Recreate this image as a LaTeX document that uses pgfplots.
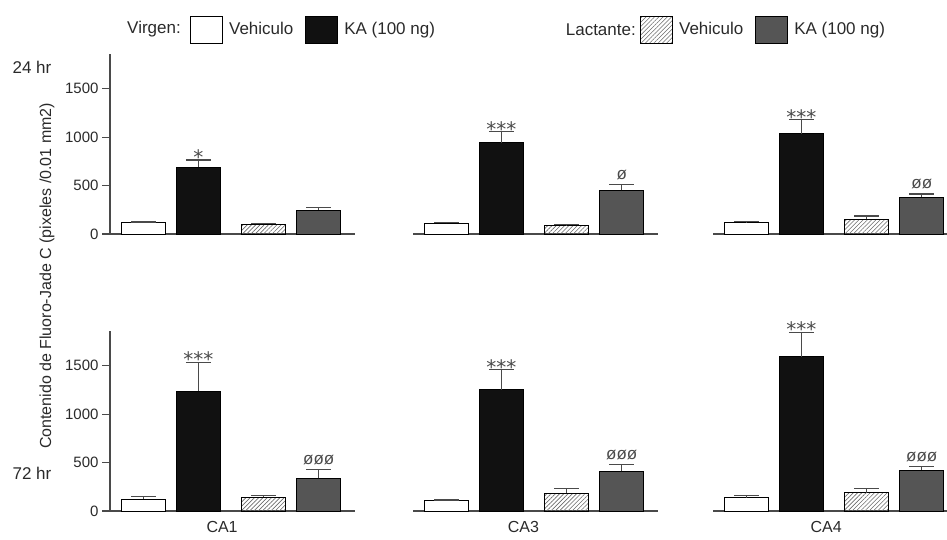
\documentclass[border=0pt]{standalone}
\usepackage{fontspec}
\setmainfont{Liberation Sans}
\newfontfamily\dejavu{DejaVu Sans}
\usepackage{pgfplots}
\pgfplotsset{compat=1.18}
\usetikzlibrary{patterns.meta}
\definecolor{axgray}{HTML}{4A4A4A}
\definecolor{txt}{HTML}{2A2A2A}
\definecolor{kagray}{HTML}{555555}
\definecolor{barblack}{HTML}{111111}
\definecolor{hatch}{HTML}{6A6A6A}

\pgfplotsset{
  panel/.style={scale only axis, height=180pt, width=245pt, ymin=0, ymax=1860,
    xmin=-0.61, xmax=3.85, enlargelimits=false, clip=false,
    axis x line*=bottom, xtick=\empty,
    axis line style={axgray, line width=1.2pt}, anchor=south west},
  firstcol/.style={axis y line*=left, ytick={0,500,1000,1500}, tick align=outside,
    major tick length=8pt, ytick style={axgray, line width=1.2pt},
    yticklabel style={font=\fontsize{15}{18}\selectfont, text=txt},
    /pgf/number format/set thousands separator={},
    /pgf/number format/assume math mode=true},
  othercol/.style={axis y line=none},
  barbase/.style={ybar, bar width=44pt, bar shift=0pt, draw=black, line width=0.9pt,
    forget plot,
    error bars/y dir=plus, error bars/y explicit,
    error bars/error bar style={line width=1.2pt, axgray},
    error bars/error mark options={rotate=90, line width=1.2pt, axgray, mark size=12.5pt}},
  vehV/.style={barbase, fill=white},
  kaV/.style={barbase, fill=barblack},
  vehL/.style={barbase, pattern={Lines[angle=45, distance=3pt, line width=0.6pt]}, pattern color=hatch},
  kaL/.style={barbase, fill=kagray},
  boxlegend/.style={legend image code/.code={\draw[##1, draw=black, line width=0.9pt] (0pt,-13.5pt) rectangle (32pt,13.5pt);}},
  mylegend/.style={legend columns=-1,
    legend style={at={#1}, anchor=west, draw=none, fill=none, inner sep=0pt,
      font=\fontsize{17}{20}\selectfont, text=txt,
      /tikz/every odd column/.append style={column sep=4pt},
      /tikz/every even column/.append style={column sep=10pt}}},
}
\newcommand{\stars}[1]{{\dejavu\fontsize{20}{22}\selectfont #1}}
\newcommand{\phis}[1]{{\fontsize{17}{20}\selectfont #1}}

\begin{document}
\begin{tikzpicture}
\useasboundingbox (0,0) rectangle (947pt,540pt);

% ---------- 24 hr row ----------
\begin{axis}[panel, firstcol, at={(110pt,306pt)}, mylegend={(0.3265,1.136)}]
\addplot[vehV] coordinates {(0,117) +- (0,6)};
\addplot[kaV] coordinates {(1,690) +- (0,75)};
\addplot[vehL] coordinates {(2.19,103) +- (0,7)};
\addplot[kaL] coordinates {(3.19,248) +- (0,22)};
\addlegendimage{boxlegend, fill=white}
\addlegendentry{Vehiculo}
\addlegendimage{boxlegend, fill=barblack}
\addlegendentry{KA (100 ng)}
\node[anchor=base, inner sep=0pt, text=axgray, yshift=-4.4pt] at (axis cs:1,765) {\stars{*}};
\end{axis}

\begin{axis}[panel, othercol, at={(413pt,306pt)}, mylegend={(0.9265,1.136)}]
\addplot[vehV] coordinates {(0,110) +- (0,10)};
\addplot[kaV] coordinates {(1,944) +- (0,111)};
\addplot[vehL] coordinates {(2.19,86) +- (0,9)};
\addplot[kaL] coordinates {(3.19,452) +- (0,58)};
\addlegendimage{boxlegend, vehL}
\addlegendentry{Vehiculo}
\addlegendimage{boxlegend, fill=kagray}
\addlegendentry{KA (100 ng)}
\node[anchor=base, inner sep=0pt, text=axgray, yshift=-4.4pt] at (axis cs:1,1055) {\stars{***}};
\node[anchor=base, inner sep=0pt, text=axgray, yshift=5pt] at (axis cs:3.19,510) {\phis{ø}};
\end{axis}

\begin{axis}[panel, othercol, at={(713pt,306pt)}, xmax=3.65, width=234pt]
\addplot[vehV] coordinates {(0,121) +- (0,8)};
\addplot[kaV] coordinates {(1,1034) +- (0,145)};
\addplot[vehL] coordinates {(2.19,152) +- (0,34)};
\addplot[kaL] coordinates {(3.19,380) +- (0,34)};
\node[anchor=base, inner sep=0pt, text=axgray, yshift=-4.4pt] at (axis cs:1,1179) {\stars{***}};
\node[anchor=base, inner sep=0pt, text=axgray, yshift=5pt] at (axis cs:3.19,414) {\phis{øø}};
\end{axis}

% ---------- 72 hr row ----------
\begin{axis}[panel, firstcol, at={(110pt,29pt)}]
\addplot[vehV] coordinates {(0,124) +- (0,24)};
\addplot[kaV] coordinates {(1,1238) +- (0,300)};
\addplot[vehL] coordinates {(2.19,141) +- (0,21)};
\addplot[kaL] coordinates {(3.19,338) +- (0,93)};
\node[anchor=base, inner sep=0pt, text=axgray, yshift=-4.4pt] at (axis cs:1,1538) {\stars{***}};
\node[anchor=base, inner sep=0pt, text=axgray, yshift=5pt] at (axis cs:3.19,431) {\phis{øøø}};
\node[text=txt, font=\fontsize{16}{19}\selectfont, yshift=-16pt] at (axis cs:1.43,0) {CA1};
\end{axis}

\begin{axis}[panel, othercol, at={(413pt,29pt)}]
\addplot[vehV] coordinates {(0,107) +- (0,6)};
\addplot[kaV] coordinates {(1,1251) +- (0,207)};
\addplot[vehL] coordinates {(2.19,183) +- (0,52)};
\addplot[kaL] coordinates {(3.19,410) +- (0,69)};
\node[anchor=base, inner sep=0pt, text=axgray, yshift=-4.4pt] at (axis cs:1,1458) {\stars{***}};
\node[anchor=base, inner sep=0pt, text=axgray, yshift=5pt] at (axis cs:3.19,479) {\phis{øøø}};
\node[text=txt, font=\fontsize{16}{19}\selectfont, yshift=-16pt] at (axis cs:1.40,0) {CA3};
\end{axis}

\begin{axis}[panel, othercol, at={(713pt,29pt)}, xmax=3.65, width=234pt]
\addplot[vehV] coordinates {(0,138) +- (0,24)};
\addplot[kaV] coordinates {(1,1592) +- (0,256)};
\addplot[vehL] coordinates {(2.19,189) +- (0,42)};
\addplot[kaL] coordinates {(3.19,424) +- (0,34)};
\node[anchor=base, inner sep=0pt, text=axgray, yshift=-4.4pt] at (axis cs:1,1848) {\stars{***}};
\node[anchor=base, inner sep=0pt, text=axgray, yshift=5pt] at (axis cs:3.19,458) {\phis{øøø}};
\node[text=txt, font=\fontsize{16}{19}\selectfont, yshift=-16pt] at (axis cs:1.45,0) {CA4};
\end{axis}

% ---------- free text ----------
\node[anchor=east, inner sep=0pt, text=txt, font=\fontsize{17}{20}\selectfont] at (181pt,510.5pt) {Virgen:};
\node[anchor=east, inner sep=0pt, text=txt, font=\fontsize{17}{20}\selectfont] at (636pt,510.5pt) {Lactante:};
\node[text=txt, font=\fontsize{17}{20}\selectfont] at (32pt,473pt) {24 hr};
\node[text=txt, font=\fontsize{17}{20}\selectfont] at (32pt,67pt) {72 hr};
\node[rotate=90, text=txt, font=\fontsize{16}{19}\selectfont] at (47pt,264pt) {Contenido de Fluoro-Jade C (pixeles /0.01 mm2)};
\end{tikzpicture}
\end{document}
